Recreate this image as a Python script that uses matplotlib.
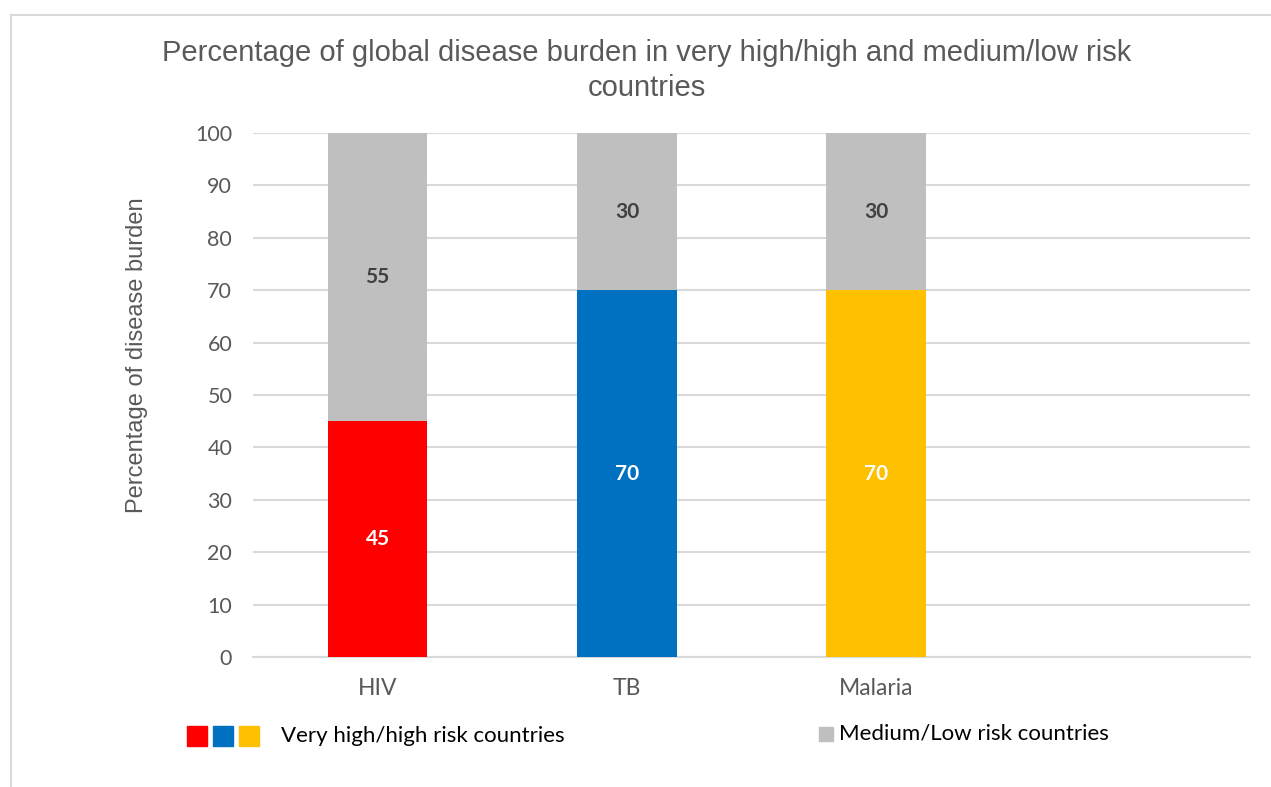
import matplotlib.pyplot as plt
from matplotlib.patches import Rectangle
from matplotlib.lines import Line2D

diseases = ['HIV', 'TB', 'Malaria', '']
high_risk = [45, 70, 70]
low_risk = [55, 30, 30]
high_colors = ['#FF0000', '#0070C0', '#FFC000']
low_color = '#BFBFBF'

fig = plt.figure(figsize=(12.71, 7.87), dpi=100)
ax = fig.add_axes([253/1271, 1-657/787, 997/1271, 524/787])

x = list(range(len(high_risk)))
ax.bar(x, high_risk, width=0.4, color=high_colors, zorder=3)
ax.bar(x, low_risk, width=0.4, bottom=high_risk, color=low_color, zorder=3)

# value labels in the middle of each segment
for i in x:
    ax.text(i, high_risk[i] / 2, str(high_risk[i]), ha='center', va='center',
            color='white', fontsize=15, fontweight='bold', family='Lato', zorder=4)
    ax.text(i, high_risk[i] + low_risk[i] / 2, str(low_risk[i]), ha='center', va='center',
            color='#404040', fontsize=15, fontweight='bold', family='Lato', zorder=4)

ax.set_xlim(-0.5, 3.5)
ax.set_ylim(0, 100)
ax.set_yticks(range(0, 101, 10))
ax.set_xticks(range(len(diseases)))
ax.set_xticklabels(diseases, family='Lato', fontsize=16.5, color='#595959')
for lab in ax.get_yticklabels():
    lab.set_family('Lato')
    lab.set_fontsize(15.5)
    lab.set_color('#595959')
ax.tick_params(axis='both', length=0)
ax.tick_params(axis='y', pad=15)
ax.tick_params(axis='x', pad=15)
ax.grid(axis='y', color='#D9D9D9', linewidth=1.5, zorder=0)
for s in ['top', 'right', 'left']:
    ax.spines[s].set_visible(False)
ax.spines['bottom'].set_color('#D9D9D9')
ax.spines['bottom'].set_linewidth(1.5)

fig.text(647/1271, 1-53/787, 'Percentage of global disease burden in very high/high and medium/low risk',
         ha='center', va='center', fontsize=21, color='#595959', family='Liberation Sans')
fig.text(647/1271, 1-88/787, 'countries',
         ha='center', va='center', fontsize=21, color='#595959', family='Liberation Sans')
fig.text(137/1271, 1-355/787, 'Percentage of disease burden', rotation=90,
         ha='center', va='center', fontsize=17, color='#595959', family='Liberation Sans')

# hand-made legend below the axis
for px, c in zip([187, 213, 239], high_colors):
    fig.add_artist(Rectangle((px/1271, 1-746/787), 20/1271, 20/787,
                             transform=fig.transFigure, color=c))
fig.text(281/1271, 1-736/787, 'Very high/high risk countries', ha='left', va='center',
         fontsize=16, color='black', family='Lato')
fig.add_artist(Rectangle((819/1271, 1-741/787), 14/1271, 14/787,
                         transform=fig.transFigure, color=low_color))
fig.text(839/1271, 1-733/787, 'Medium/Low risk countries', ha='left', va='center',
         fontsize=16, color='black', family='Lato')

# outer frame
fig.add_artist(Line2D([11/1271, 1], [1-15/787, 1-15/787], transform=fig.transFigure,
                      color='#D9D9D9', linewidth=1.5))
fig.add_artist(Line2D([11/1271, 11/1271], [0, 1-15/787], transform=fig.transFigure,
                      color='#D9D9D9', linewidth=1.5))

fig.savefig('out.png', dpi=100)
